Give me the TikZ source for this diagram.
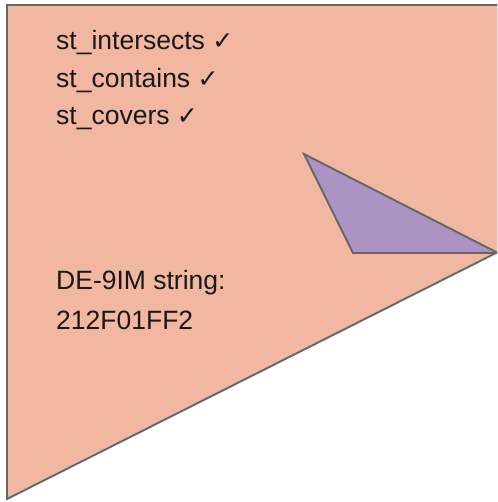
\documentclass[tikz,border=0pt]{standalone}
\usepackage{fontspec}
\setmainfont{Liberation Sans}
\newfontfamily\symfont{DejaVu Sans}
\definecolor{polyA}{HTML}{F2B7A0}
\definecolor{polyB}{HTML}{AB93C3}
\definecolor{edge}{HTML}{666666}
\newcommand{\tick}{{\symfont\fontsize{25}{29}\selectfont ✓}}
\begin{document}
\begin{tikzpicture}[x=1pt,y=-1pt,
  shapeA/.style={fill=polyA,draw=edge,line width=1.9pt,line join=miter},
  shapeB/.style={fill=polyB,draw=edge,line width=1.9pt,line join=miter},
  label/.style={anchor=base west,inner sep=0pt,font=\fontsize{26.5}{31}\selectfont,text=black!90}]
  \useasboundingbox (0,0) rectangle (497,502);
  \begin{scope}
    \clip (0,0) rectangle (497,502);
    % outer polygon
    \draw[shapeA] (7,5) -- (498,5) -- (498,252) -- (7,499) -- cycle;
    % inner triangle
    \draw[shapeB] (304,154) -- (353,253) -- (498,253) -- cycle;
  \end{scope}
  % predicate labels
  \node[label] (p1) at (56,50) {st\_intersects \tick};
  \node[label] (p2) at (56,88) {st\_contains \tick};
  \node[label] (p3) at (56,125) {st\_covers \tick};
  % matrix string
  \node[label] (d1) at (56,289) {DE-9IM string:};
  \node[label] (d2) at (56,329) {212F01FF2};
\end{tikzpicture}
\end{document}
